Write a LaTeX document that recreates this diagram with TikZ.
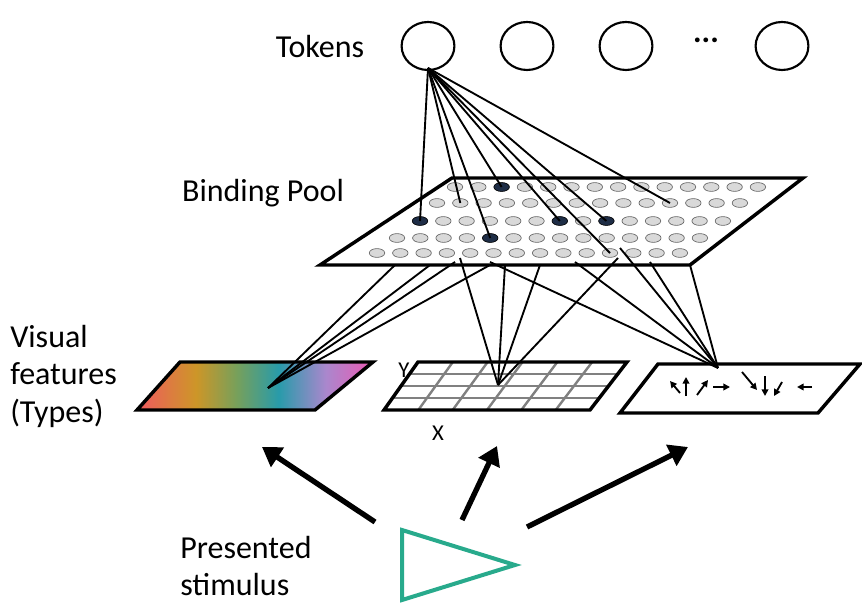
\documentclass[tikz,border=0pt]{standalone}
\usepackage{fontspec}
\setmainfont{Carlito}
\usetikzlibrary{arrows.meta}
\definecolor{c0}{RGB}{240,90,95}
\definecolor{c1}{RGB}{205,150,40}
\definecolor{c2}{RGB}{120,160,90}
\definecolor{c3}{RGB}{40,155,170}
\definecolor{c4}{RGB}{170,135,205}
\definecolor{c5}{RGB}{235,90,180}
\definecolor{navy}{RGB}{30,45,70}
\definecolor{teal}{RGB}{40,170,140}
\pgfdeclarehorizontalshading{rainbow}{100bp}{
 color(0bp)=(c0); color(25bp)=(c0); color(37.5bp)=(c1); color(46bp)=(c2);
 color(55bp)=(c3); color(65bp)=(c4); color(75bp)=(c5); color(100bp)=(c5)}
\begin{document}
\begin{tikzpicture}[x=0.75pt,y=-0.75pt,
  lbl/.style={font=\fontsize{24}{30}\selectfont,inner sep=0pt},
  panel/.style={line width=2.6pt,line join=miter},
  conn/.style={line width=1.4pt},
  tok/.style={draw,line width=1.6pt,circle,minimum size=36pt,inner sep=0pt,xscale=1.1},
  dot/.style={draw=black!60,fill=black!15,line width=0.5pt},
  dark/.style={draw=black,fill=navy},
  big/.style={line width=4pt,-{Triangle[length=14pt,width=17pt]}}]
\useasboundingbox (0,0) rectangle (862,616);
% tokens
\node[lbl,anchor=center] (tl) at (320,47) {Tokens};
\node[tok] (t1) at (428,46) {};
\node[tok] (t2) at (527,46) {};
\node[tok] (t3) at (626,46) {};
\node[tok] (t4) at (782,46) {};
\node[lbl,font=\bfseries\fontsize{24}{30}\selectfont] (dots) at (706,40) {...};
% binding pool
\node[lbl] (bp) at (263,193) {Binding Pool};
\draw[panel,fill=white] (452,178) -- (803,178) -- (690,265) -- (320,265) -- cycle;
\foreach \r/\y/\xs in {1/187/455,2/203/437,3/221/420,4/238/397,5/253/377}{
  \foreach \i in {0,...,13}{
    \pgfmathsetmacro\xx{\xs+\i*23.3}
    \draw[dot] (\xx,\y) ellipse (5.8pt and 3.3pt);
    \coordinate (d\r-\i) at (\xx,\y);
  }}
\foreach \d in {d1-2,d3-0,d3-6,d3-8,d4-4}{\draw[dark] (\d) ellipse (5.8pt and 3.3pt);}
\coordinate (tb) at (428,68);
\foreach \d in {d3-0,d2-1,d4-4,d1-2,d3-6,d3-8,d2-10,d5-10}{\draw[conn] (tb) -- (\d);}
% features
\node[lbl,align=left,anchor=north west] (vf) at (10,325) {Visual\\[-2pt]features\\[-2pt](Types)};
\begin{scope}
 \clip (180,362) -- (373,362) -- (315,410) -- (137,410) -- cycle;
 \shade[shading=rainbow] (137,362) rectangle (373,410);
\end{scope}
\draw[panel] (180,362) -- (373,362) -- (315,410) -- (137,410) -- cycle;
\coordinate (cc) at (268,388);
% grid
\foreach \k in {1,2,3}{\draw[gray,line width=1.8pt] ({418-34*\k/4},{362+48*\k/4}) -- ({627-37*\k/4},{362+48*\k/4});}
\foreach \k in {1,...,5}{\draw[gray,line width=1.8pt] ({418+209*\k/6},362) -- ({384+206*\k/6},410);}
\draw[panel] (418,362) -- (627,362) -- (590,410) -- (384,410) -- cycle;
\node[font=\fontsize{17}{20}\selectfont] (yl) at (404,370) {Y};
\node[font=\fontsize{17}{20}\selectfont] (xl) at (438,433) {X};
\coordinate (gc) at (498,385);
% motion
\draw[panel] (658,364) -- (860,364) -- (818,413) -- (620,413) -- cycle;
\foreach \a/\b/\c/\d in {680/393/670/381, 686/396/686/377, 697/395/708/380, 713/387/730/387, 742/372/757/390, 765/376/765/396, 782/382/774/396, 812/387/797/387}
 {\draw[line width=1.4pt,-{Triangle[length=5pt,width=5pt]}] (\a,\b) -- (\c,\d);}
\coordinate (mc) at (718,368);
% pool to features
\foreach \p in {(395,265),(430,265),(455,262),(490,265)}{\draw[conn] \p -- (cc);}
\foreach \p in {(460,258),(505,265),(540,265),(618,258)}{\draw[conn] \p -- (gc);}
\foreach \p in {(490,262),(575,262),(650,262),(690,265),(620,248)}{\draw[conn] \p -- (mc);}
% stimulus
\node[lbl,align=left,anchor=north west] (ps) at (180,536) {Presented\\[-2pt]stimulus};
\draw[line width=3pt,color=teal,line join=miter] (402,530) -- (515,565) -- (402,600) -- cycle;
\coordinate (s1) at (375,522); \coordinate (s2) at (462,520); \coordinate (s3) at (527,527);
\coordinate (f1) at (262,447); \coordinate (f2) at (497,446); \coordinate (f3) at (688,447);
\draw[big] (s1) -- (f1);
\draw[big] (s2) -- (f2);
\draw[big] (s3) -- (f3);
\end{tikzpicture}
\end{document}
